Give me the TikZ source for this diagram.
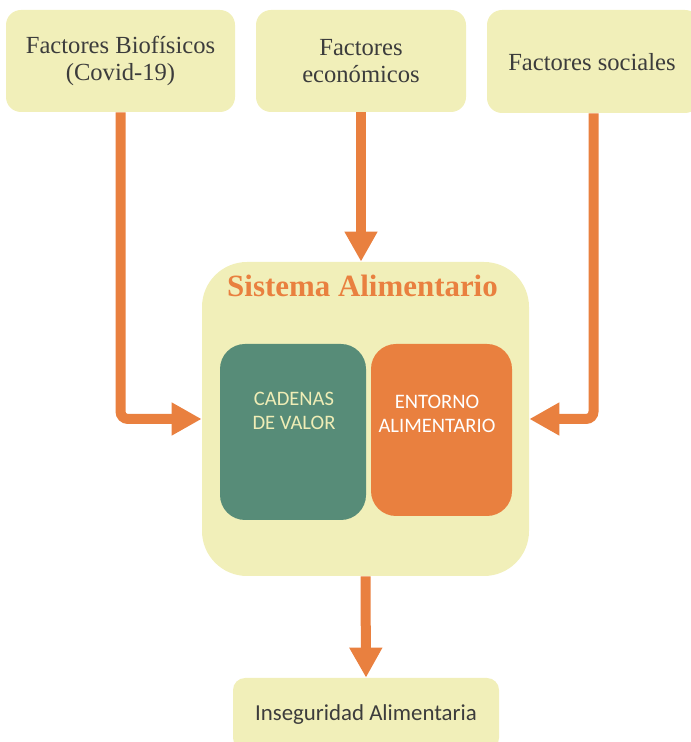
\documentclass[tikz,border=0pt]{standalone}
\usepackage{fontspec}
\setmainfont{Liberation Serif}
\newfontfamily\calibri{Carlito}
\usetikzlibrary{arrows.meta}

\definecolor{cremabox}{HTML}{F1EFB9}
\definecolor{verdebox}{HTML}{578C78}
\definecolor{naranja}{HTML}{E9803F}
\definecolor{textogris}{HTML}{3C3C3C}
\definecolor{textocrema}{HTML}{EFEDB6}

\tikzset{
  factor/.style={rectangle,rounded corners=0.3cm,fill=cremabox,text=textogris,
    align=center,font=\fontsize{14}{15.5}\selectfont},
  flecha/.style={draw=naranja,line width=0.2cm,rounded corners=0.15cm,
    -{Triangle[length=0.6cm,width=0.62cm]}},
}

\begin{document}
\begin{tikzpicture}
\useasboundingbox (0,0) rectangle (13.8,14.84);
% factores
\node[factor,minimum width=4.58cm,minimum height=2.04cm] (bio) at (2.41,13.62) {Factores Biofísicos\\(Covid-19)};
\node[factor,minimum width=4.2cm,minimum height=2.04cm] (econ) at (7.22,13.62) {Factores\\económicos};
\node[factor,minimum width=4.26cm,minimum height=2.06cm] (social) at (11.87,13.61) {};
\node[text=textogris,font=\fontsize{14}{16}\selectfont] (socialtxt) at (11.84,13.6) {Factores sociales};
% sistema
\node[rectangle,rounded corners=0.9cm,fill=cremabox,minimum width=6.54cm,minimum height=6.28cm] (sistema) at (7.31,6.46) {};
\node[text=naranja,font=\fontsize{17.6}{20}\bfseries\selectfont] (titulo) at (7.25,9.12) {Sistema Alimentario};
\node[rectangle,rounded corners=0.5cm,fill=verdebox,minimum width=2.92cm,minimum height=3.52cm] (cadenas) at (5.86,6.2) {};
\node[rectangle,rounded corners=0.5cm,fill=naranja,minimum width=2.82cm,minimum height=3.44cm] (entorno) at (8.83,6.24) {};
\node[text=textocrema,align=center,font=\calibri\fontsize{11.7}{13.5}\selectfont] (cadtxt) at (5.88,6.62) {CADENAS\\DE VALOR};
\node[text=white,align=center,font=\calibri\fontsize{11.7}{13.5}\selectfont] (enttxt) at (8.74,6.56) {ENTORNO\\ALIMENTARIO};
% salida
\node[rectangle,rounded corners=0.24cm,fill=cremabox,text=textogris,minimum width=5.32cm,minimum height=1.44cm] (inseg) at (7.32,0.56) {};
\node[text=textogris,font=\calibri\fontsize{13}{15}\selectfont] (insegtxt) at (7.32,0.55) {Inseguridad Alimentaria};
% flechas
\draw[flecha] (bio.south) |- (sistema.west);
\draw[flecha] (econ.south) -- (econ.south |- sistema.north);
\draw[flecha] (social.south) |- (sistema.east);
\draw[flecha] (sistema.south) -- (inseg.north);
\end{tikzpicture}
\end{document}
